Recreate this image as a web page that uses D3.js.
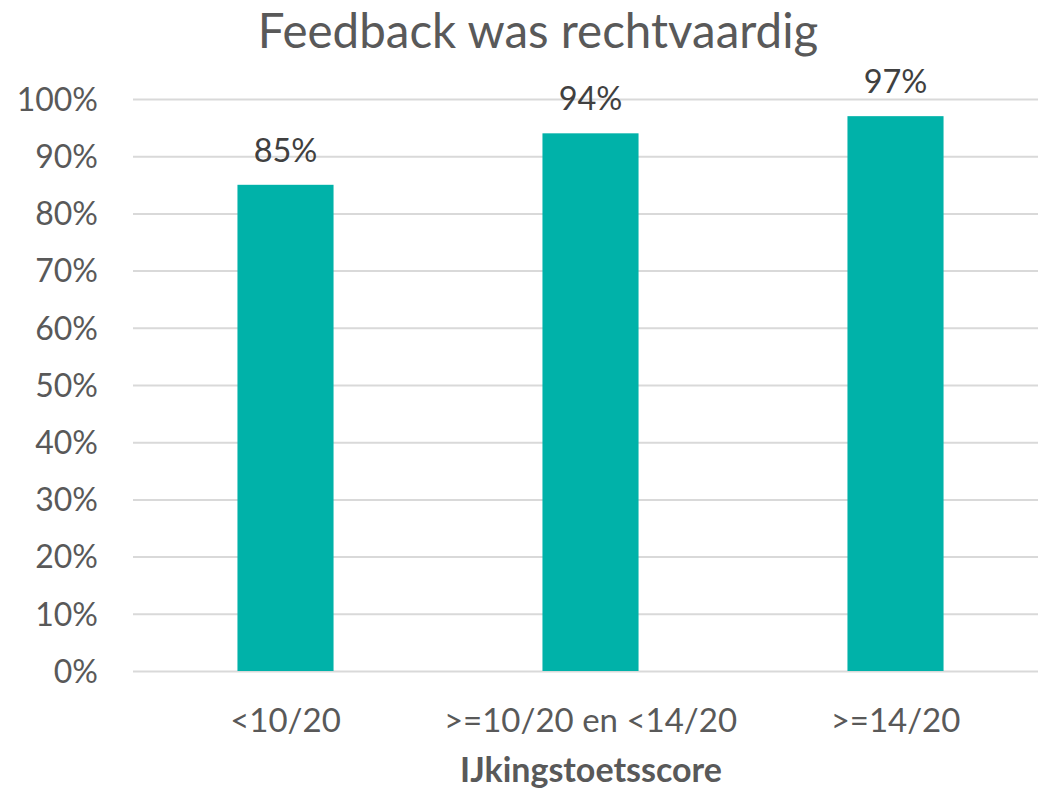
<!DOCTYPE html>
<html>
<head>
<meta charset="utf-8">
<script src="https://cdn.jsdelivr.net/npm/d3@7"></script>
<style>
  body { margin: 0; background: #fff; }
  svg text { font-family: Lato, "Open Sans", sans-serif; }
</style>
</head>
<body>
<svg id="chart" width="1038" height="793"></svg>
<script>
// data
const categories = ["<10/20", ">=10/20 en <14/20", ">=14/20"];
const values = [0.85, 0.94, 0.97];
const labels = ["85%", "94%", "97%"];
const yTicks = [0, 0.1, 0.2, 0.3, 0.4, 0.5, 0.6, 0.7, 0.8, 0.9, 1.0];

const svg = d3.select("svg#chart");
const margin = {top: 99, right: -10, bottom: 122, left: 133};
const width = 1038;
const height = 793;
const chartWidth = width - margin.left - margin.right;
const chartHeight = height - margin.top - margin.bottom;

const xScale = d3.scaleBand()
    .domain(categories)
    .range([0, chartWidth])
    .paddingInner(0.685)
    .paddingOuter(0.3425);
const yScale = d3.scaleLinear().domain([0, 1]).range([chartHeight, 0]);

// title
svg.append("text")
    .attr("x", 538)
    .attr("y", 48)
    .attr("text-anchor", "middle")
    .style("font-size", "47.5px")
    .style("fill", "#595959")
    .text("Feedback was rechtvaardig");

const chartArea = svg.append("g")
    .attr("transform", `translate(${margin.left},${margin.top})`);

// gridlines + y labels
let yAxis = d3.axisLeft(yScale)
    .tickValues(yTicks)
    .tickFormat(d3.format(".0%"))
    .tickSize(-chartWidth)
    .tickPadding(35);
let yG = chartArea.append("g").attr("class", "yGridlines").call(yAxis);
yG.select(".domain").remove();
yG.selectAll("line").style("stroke", "#d9d9d9").style("stroke-width", 2);
yG.selectAll("text")
    .style("font-size", "32px")
    .style("fill", "#595959")
    .attr("dy", "0.35em");

// bars
chartArea.selectAll("rect.bar")
    .data(values)
    .join("rect")
    .attr("class", "bar")
    .attr("x", (d, i) => xScale(categories[i]))
    .attr("y", d => yScale(d))
    .attr("width", xScale.bandwidth())
    .attr("height", d => chartHeight - yScale(d))
    .style("fill", "#00b2a9");

// value labels
chartArea.selectAll("text.valueLabel")
    .data(values)
    .join("text")
    .attr("class", "valueLabel")
    .attr("x", (d, i) => xScale(categories[i]) + xScale.bandwidth() / 2)
    .attr("y", d => yScale(d) - 23)
    .attr("text-anchor", "middle")
    .style("font-size", "32.5px")
    .style("fill", "#404040")
    .text((d, i) => labels[i]);

// x labels
let xAxis = d3.axisBottom(xScale).tickSize(0).tickPadding(0);
let xG = chartArea.append("g")
    .attr("transform", `translate(0,${chartHeight})`)
    .call(xAxis);
xG.select(".domain").remove();
xG.selectAll("text")
    .attr("dy", 0)
    .attr("y", 61)
    .style("font-size", "33px")
    .style("fill", "#595959");

// x title
svg.append("text")
    .attr("x", 591)
    .attr("y", 782)
    .attr("text-anchor", "middle")
    .style("font-size", "34px")
    .style("font-weight", "bold")
    .style("fill", "#595959")
    .text("IJkingstoetsscore");
</script>
</body>
</html>
